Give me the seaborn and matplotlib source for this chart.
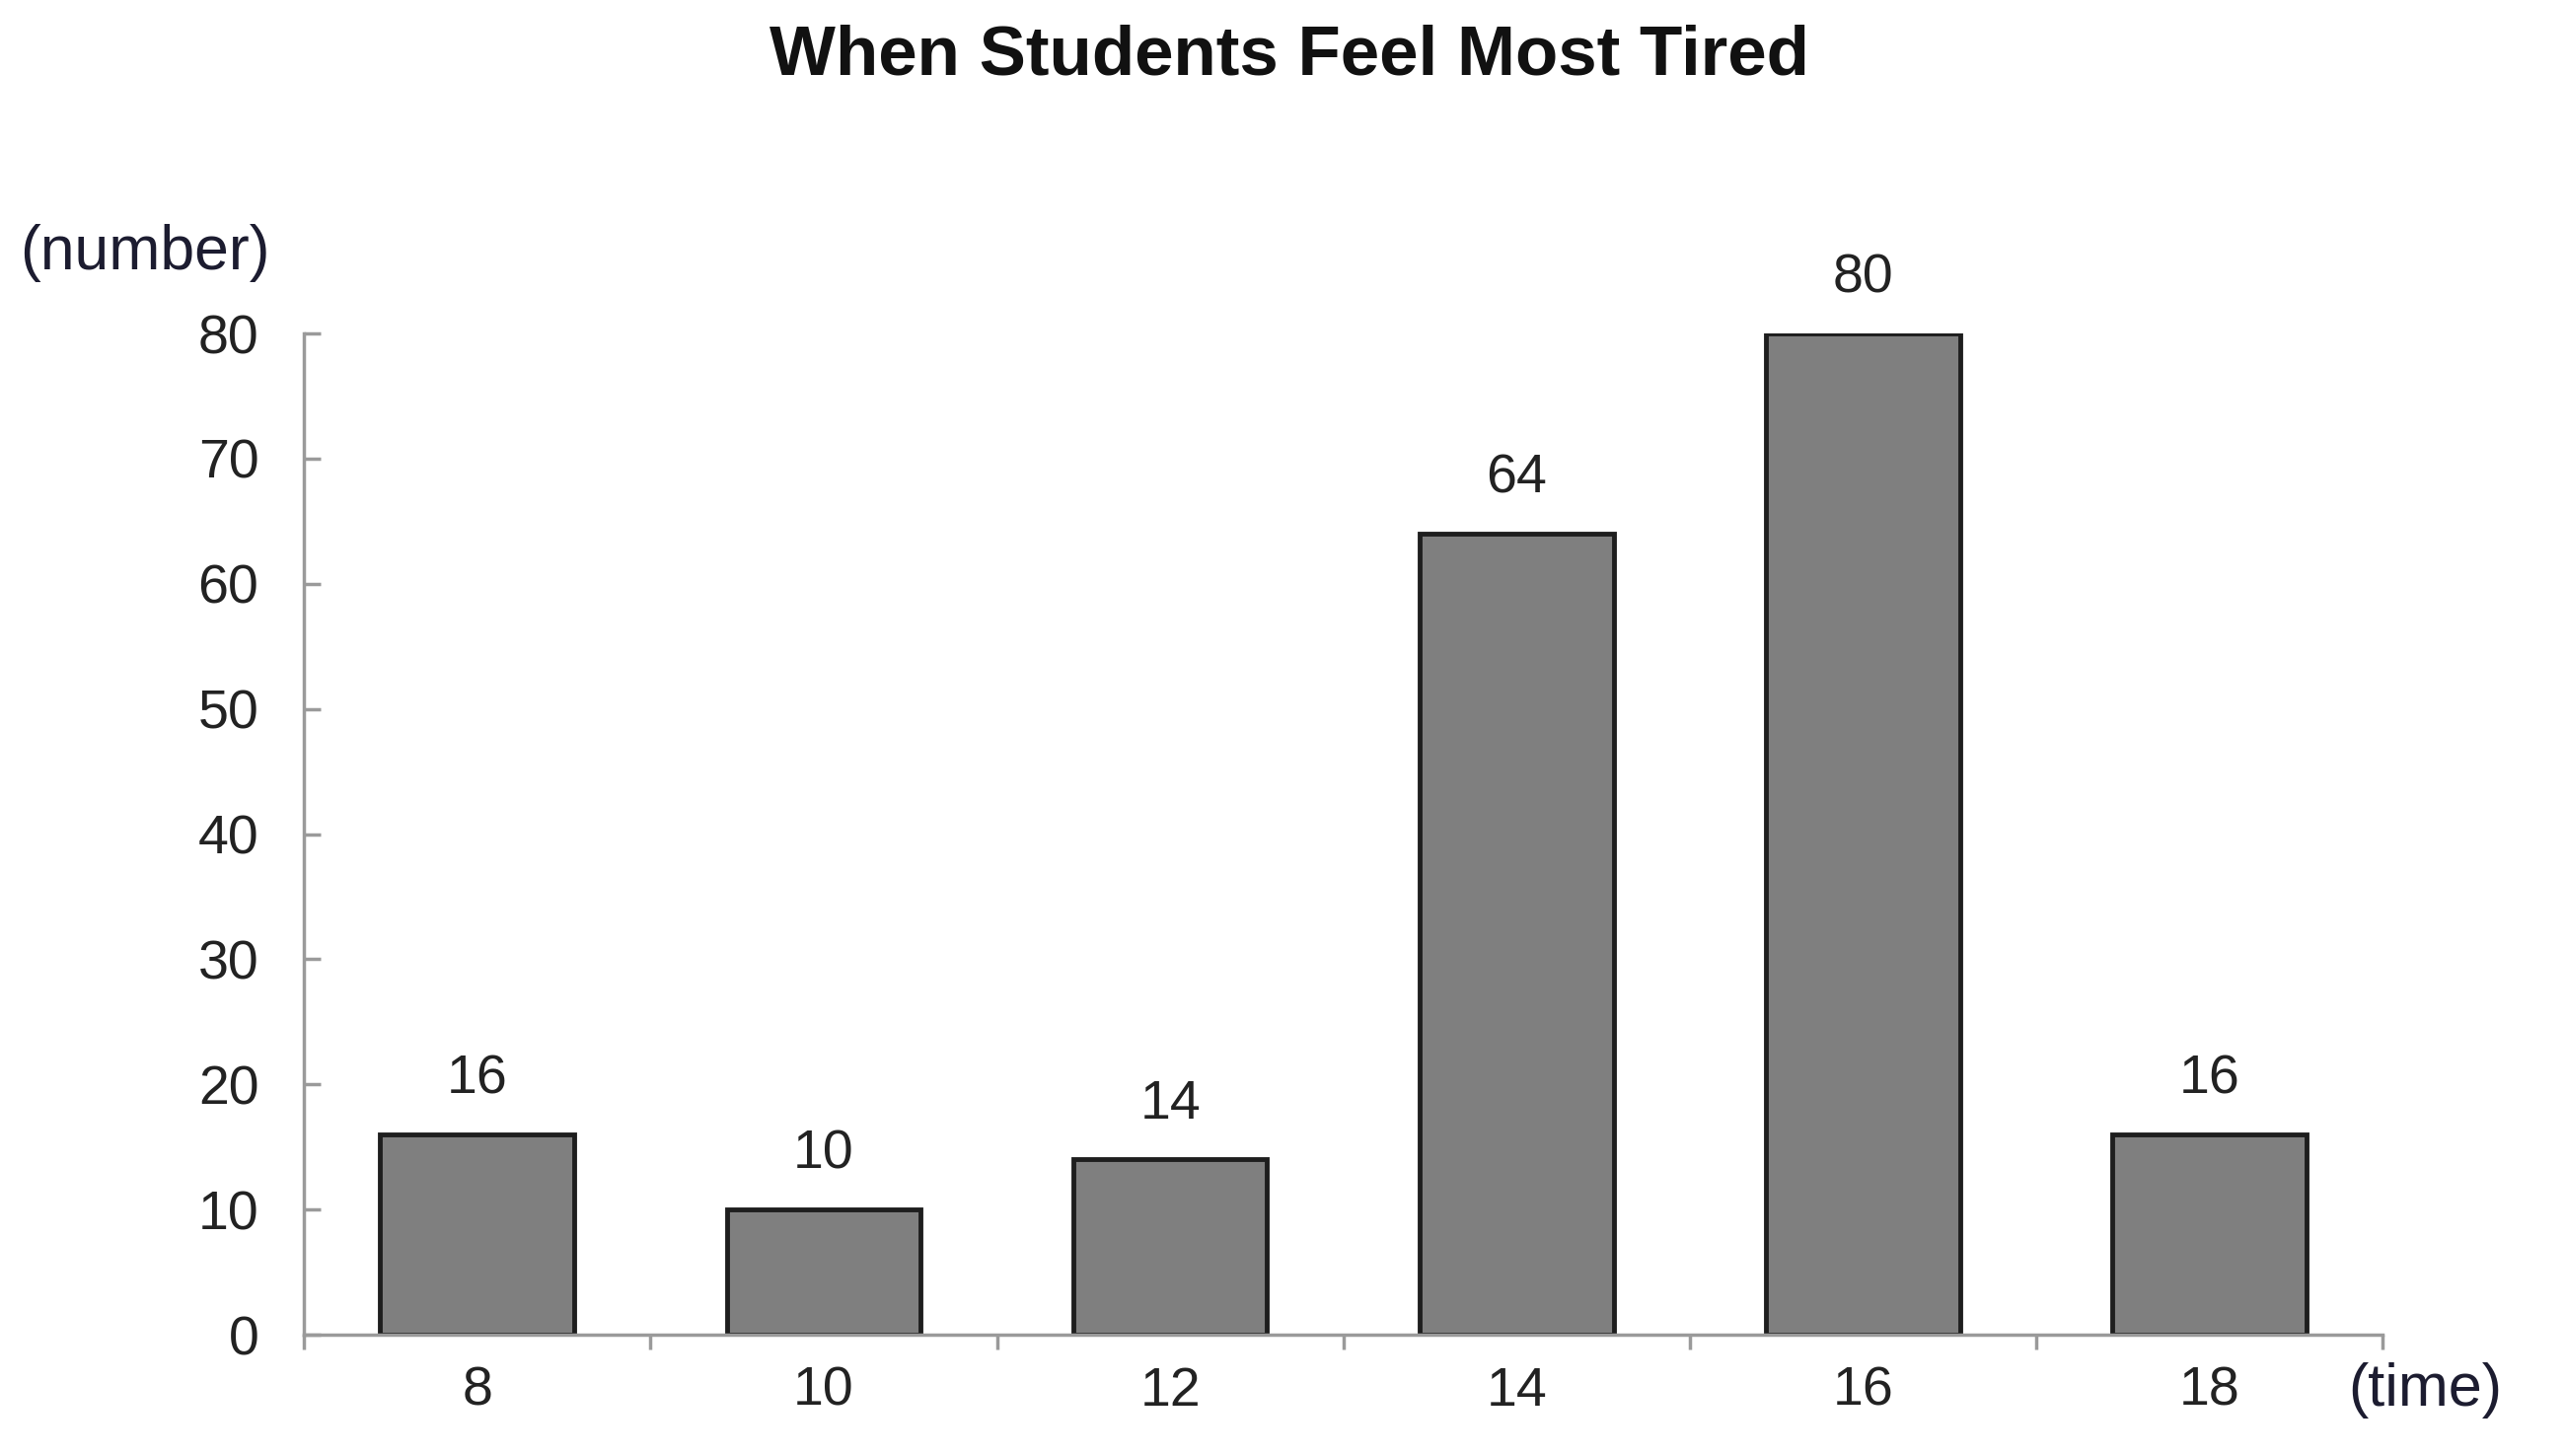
import matplotlib
matplotlib.use("Agg")
import matplotlib.pyplot as plt
import seaborn as sns
import pandas as pd

# Data
hours = ["8", "10", "12", "14", "16", "18"]
students = [16, 10, 14, 64, 80, 16]

sns.set_theme(style="white")
plt.rcParams["font.family"] = ["Liberation Sans", "DejaVu Sans"]

df = pd.DataFrame({"hour": hours, "count": students})

fig = plt.figure(figsize=(26, 14.76), dpi=100)
ax = fig.add_axes([0.1185, 0.0833, 0.8105, 0.6877])

sns.barplot(data=df, x="hour", y="count", order=hours, color="#7f7f7f",
            saturation=1, width=0.56, edgecolor="#1e1e1e", linewidth=3.5, ax=ax)

ax.set_xlim(-0.5, len(hours) - 0.5)
ax.set_ylim(0, 80)
ax.set_yticks(range(0, 81, 10))
ax.set_xlabel("")
ax.set_ylabel("")

# Value labels above bars
for i, v in enumerate(students):
    ax.annotate(str(v), (i, v), xytext=(0, 40), textcoords="offset points",
                ha="center", va="center", fontsize=40, color="#222222")

# Spines and ticks
for s in ["top", "right"]:
    ax.spines[s].set_visible(False)
for s in ["left", "bottom"]:
    ax.spines[s].set_color("#9a9a9a")
    ax.spines[s].set_linewidth(2.5)

# Category labels sit at bar centres; tick marks sit between categories
ax.set_xticks(range(len(hours)))
ax.set_xticklabels(hours)
ax.tick_params(axis="x", which="major", bottom=False, length=0, pad=23,
               labelsize=40, labelcolor="#222222")
ax.set_xticks([i - 0.5 for i in range(len(hours) + 1)], minor=True)
ax.tick_params(axis="x", which="minor", bottom=True, direction="out",
               length=11, width=2.5, color="#9a9a9a")
ax.tick_params(axis="y", left=True, direction="in", length=12, width=2.5,
               color="#9a9a9a", pad=33, labelsize=40, labelcolor="#222222")

fig.text(0.5027, 0.961, "When Students Feel Most Tired", ha="center",
         va="center", fontsize=51, fontweight="bold", color="#111111")
fig.text(0.0077, 0.826, "(number)", ha="left", va="center", fontsize=45,
         color="#1c1c30")
fig.text(0.9155, 0.045, "(time)", ha="left", va="center", fontsize=44,
         color="#1c1c30")

fig.savefig("out.png", dpi=100)
